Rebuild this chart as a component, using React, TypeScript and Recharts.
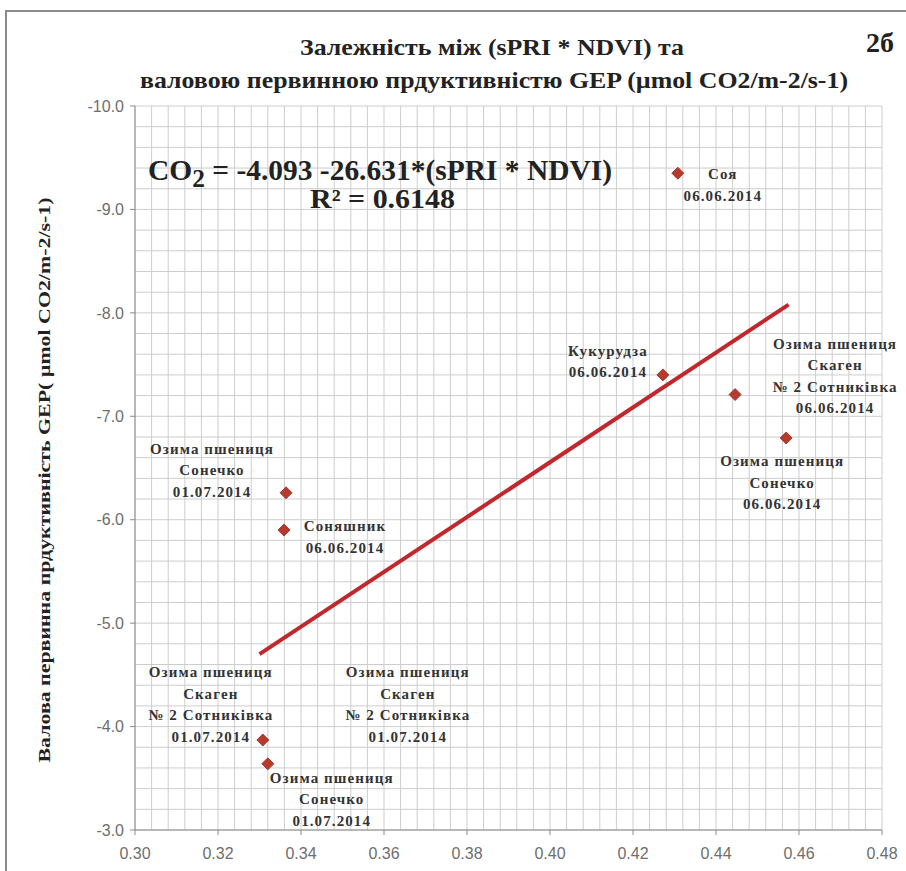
import React from 'react';
import { ScatterChart, Scatter, XAxis, YAxis, CartesianGrid, ReferenceLine } from 'recharts';

// sPRI * NDVI (x) vs GEP (y), one point per crop / date
const X_VALUES = [0.4308, 0.4272, 0.4446, 0.4569, 0.3364, 0.3359, 0.3308, 0.332];
const Y_VALUES = [-9.35, -7.4, -7.21, -6.79, -6.26, -5.9, -3.87, -3.64];
const POINT_LABELS = [
  ['Соя', '06.06.2014'],
  ['Кукурудза', '06.06.2014'],
  ['Озима пшениця', 'Скаген', '№ 2  Сотниківка', '06.06.2014'],
  ['Озима пшениця', 'Сонечко', '06.06.2014'],
  ['Озима пшениця', 'Сонечко', '01.07.2014'],
  ['Соняшник', '06.06.2014'],
  ['Озима пшениця', 'Скаген', '№ 2  Сотниківка', '01.07.2014'],
  ['Озима пшениця', 'Сонечко', '01.07.2014'],
];

// linear trend end points
const TREND_X = [0.33, 0.4575];
const TREND_Y = [-4.7, -8.08];

const X_TICKS = [0.3, 0.32, 0.34, 0.36, 0.38, 0.4, 0.42, 0.44, 0.46, 0.48];
const Y_TICKS = [-10, -9, -8, -7, -6, -5, -4, -3];

// label offsets from the marker (center x, first line y); the 7th point carries a stray copy too
const LABEL_POS: { dx: number; dy: number }[][] = [
  [{ dx: 45, dy: 1 }],
  [{ dx: -55, dy: -24 }],
  [{ dx: 100, dy: -51 }],
  [{ dx: -4, dy: 23 }],
  [{ dx: -74, dy: -44 }],
  [{ dx: 61, dy: -4 }],
  [{ dx: -52, dy: -68 }, { dx: 145, dy: -68 }],
  [{ dx: 64, dy: 14 }],
];

const W = 906;
const H = 871;
const RED = '#C0282D';
const MARK = '#B83A2A';
const SERIF = '"Liberation Serif", "Times New Roman", serif';
const SANS = '"Liberation Sans", Arial, sans-serif';
const LINE_H = 21.5;

// minor grid: 5 steps per major tick
const X_GRID = Array.from({ length: 46 }, (_, i) => i / 45);
const Y_GRID = Array.from({ length: 36 }, (_, i) => i / 35);

const data = X_VALUES.map((x, i) => ({ x, y: Y_VALUES[i], i }));

const PointShape = (props: any) => {
  const { cx, cy, payload } = props;
  if (cx == null || cy == null) return null;
  const r = 6;
  const lines = POINT_LABELS[payload.i];
  return (
    <g>
      <polygon
        points={`${cx},${cy - r} ${cx + r},${cy} ${cx},${cy + r} ${cx - r},${cy}`}
        fill={MARK}
        stroke="#8E2A1E"
        strokeWidth={0.8}
      />
      {LABEL_POS[payload.i].map((p, k) => (
        <text
          key={k}
          x={cx + p.dx}
          textAnchor="middle"
          fontFamily={SERIF}
          fontSize={15}
          fontWeight={700}
          letterSpacing={1.1}
          fill="#333"
        >
          {lines.map((t, j) => (
            <tspan key={j} x={cx + p.dx} y={cy + p.dy + 5 + j * LINE_H}>{t}</tspan>
          ))}
        </text>
      ))}
    </g>
  );
};

export default function App() {
  return (
    <div style={{ position: 'absolute', left: 0, top: 0, width: W, height: H, background: '#fff', overflow: 'hidden' }}>
      <div style={{ position: 'absolute', left: 5, top: 10, width: W, height: H, border: '2px solid #8a8a8a' }} />
      <ScatterChart
        width={W}
        height={H}
        margin={{ top: 106, right: 24, bottom: 11, left: 75 }}
        style={{ position: 'absolute', left: 0, top: 0 }}
      >
        <CartesianGrid
          stroke="#cdcdcd"
          strokeWidth={1}
          verticalCoordinatesGenerator={({ offset }: any) =>
            X_GRID.map((f) => offset.left + f * offset.width)
          }
          horizontalCoordinatesGenerator={({ offset }: any) =>
            Y_GRID.map((f) => offset.top + f * offset.height)
          }
        />
        <XAxis
          type="number"
          dataKey="x"
          domain={[0.3, 0.48]}
          ticks={X_TICKS}
          tickFormatter={(v: number) => v.toFixed(2)}
          height={30}
          tick={{ fontSize: 16, fill: '#6e6e6e', fontFamily: SANS }}
          axisLine={{ stroke: '#8a8a8a' }}
          tickLine={{ stroke: '#8a8a8a' }}
          tickSize={5}
          tickMargin={13}
        />
        <YAxis
          type="number"
          dataKey="y"
          domain={[-10, -3]}
          ticks={Y_TICKS}
          reversed
          tickFormatter={(v: number) => v.toFixed(1)}
          width={60}
          tick={{ fontSize: 16, fill: '#6e6e6e', fontFamily: SANS }}
          axisLine={{ stroke: '#8a8a8a' }}
          tickLine={{ stroke: '#8a8a8a' }}
          tickSize={5}
          tickMargin={6}
        />
        <ReferenceLine
          segment={[{ x: TREND_X[0], y: TREND_Y[0] }, { x: TREND_X[1], y: TREND_Y[1] }]}
          stroke={RED}
          strokeWidth={4}
          ifOverflow="visible"
        />
        <Scatter data={data} shape={PointShape} isAnimationActive={false} />
      </ScatterChart>

      <svg width={W} height={H} style={{ position: 'absolute', left: 0, top: 0, pointerEvents: 'none' }}>
        <g fontFamily={SERIF} fontWeight={700} fill="#222">
          <text x={492} y={55} textAnchor="middle" fontSize={24} textLength={384} lengthAdjust="spacingAndGlyphs">
            Залежність між (sPRI * NDVI)  та
          </text>
          <text x={494} y={88} textAnchor="middle" fontSize={24} textLength={708} lengthAdjust="spacingAndGlyphs">
            валовою первинною прдуктивністю GEP (µmol CO2/m-2/s-1)
          </text>
          <text x={880} y={52} textAnchor="middle" fontSize={28}>2б</text>
          <text x={148} y={180} fontSize={29} textLength={464} lengthAdjust="spacingAndGlyphs">
            CO<tspan fontSize={25} dy={7}>2</tspan><tspan dy={-7}> = -4.093 -26.631*(sPRI * NDVI)</tspan>
          </text>
          <text x={310} y={208} fontSize={27} textLength={145} lengthAdjust="spacingAndGlyphs">R² = 0.6148</text>
          <text
            transform="translate(50,480) rotate(-90)"
            textAnchor="middle"
            fontSize={16}
            textLength={565}
            lengthAdjust="spacingAndGlyphs"
          >
            Валова первинна прдуктивність GEP( µmol CO2/m-2/s-1)
          </text>
        </g>
      </svg>
    </div>
  );
}
